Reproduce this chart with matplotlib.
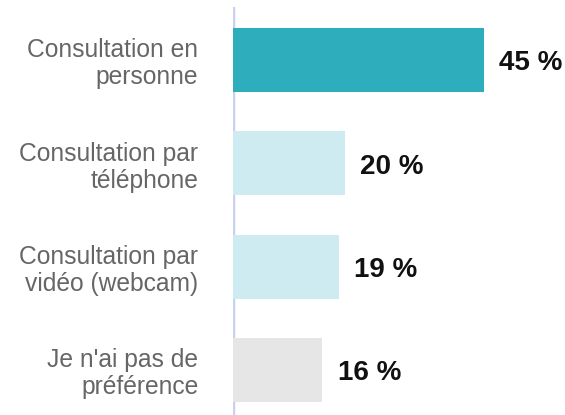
import matplotlib
matplotlib.use("Agg")
import matplotlib.pyplot as plt

categories = ["Consultation en\npersonne", "Consultation par\ntéléphone",
              "Consultation par\nvidéo (webcam)", "Je n'ai pas de\npréférence"]
values = [45, 20, 19, 16]
colors = ["#2eadbd", "#cdebf1", "#cdebf1", "#e6e6e6"]

plt.rcParams['font.family'] = ['Liberation Sans', 'DejaVu Sans']

fig = plt.figure(figsize=(5.65, 4.15), dpi=100)
W, H = 565, 415
ax = fig.add_axes([233 / W, 0, (W - 233) / W, (415 - 7) / H])

pos = list(range(len(categories)))
ax.barh(pos, values, height=0.62, color=colors, zorder=2)
ax.axvline(0, color="#c9d1ee", lw=2.5, zorder=1)

for p, v in zip(pos, values):
    ax.annotate(f"{v} %", xy=(v, p), xytext=(11, -2.5), textcoords="offset points",
                va="center", ha="left", fontsize=20, fontweight="bold", color="#111111")

ax.set_xlim(0, (W - 233) / 5.58)
ax.set_ylim(3.437, -0.513)
ax.set_yticks(pos)
ax.set_yticklabels(categories, fontsize=17.7, color="#666666", ha="right", linespacing=1.15)
ax.tick_params(axis="y", length=0, pad=25)
ax.set_xticks([])
for s in ax.spines.values():
    s.set_visible(False)

fig.savefig("out.png", dpi=100)
